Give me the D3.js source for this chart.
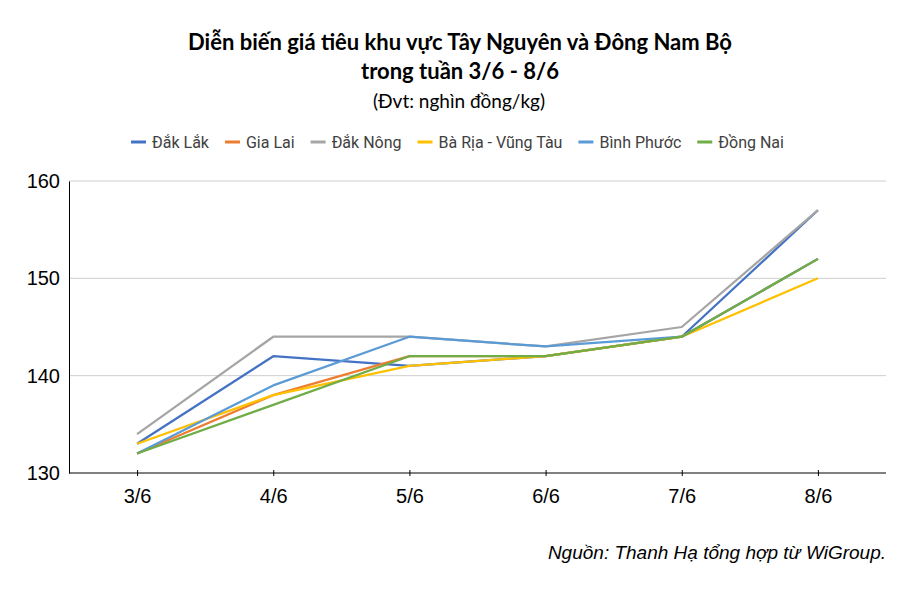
<!DOCTYPE html>
<html>
<head>
<meta charset="utf-8">
<script src="https://cdn.jsdelivr.net/npm/d3@7"></script>
<style>
  body { margin: 0; background: #fff; }
</style>
</head>
<body>
<div id="chart"></div>
<script>
// categories and values
let days = ["3/6", "4/6", "5/6", "6/6", "7/6", "8/6"];
let seriesNames = ["Đắk Lắk", "Gia Lai", "Đắk Nông", "Bà Rịa - Vũng Tàu", "Bình Phước", "Đồng Nai"];
let dakLak = [133, 142, 141, 142, 144, 157];
let giaLai = [132, 138, 142, 142, 144, 152];
let dakNong = [134, 144, 144, 143, 145, 157];
let baRia = [133, 138, 141, 142, 144, 150];
let binhPhuoc = [132, 139, 144, 143, 144, 152];
let dongNai = [132, 137, 142, 142, 144, 152];
let yTicks = [130, 140, 150, 160];

let colors = ["#4472C4", "#ED7D31", "#A5A5A5", "#FFC000", "#5B9BD5", "#70AD47"];
let allSeries = [dakLak, giaLai, dakNong, baRia, binhPhuoc, dongNai];

let W = 916, H = 594;
let margin = {top: 181, right: 30, bottom: 121, left: 69},
    width = W - margin.left - margin.right,
    height = H - margin.top - margin.bottom;

let svg = d3.select("#chart").append("svg")
    .attr("width", W)
    .attr("height", H);

// titles
svg.append("text")
    .attr("x", 460).attr("y", 50)
    .attr("text-anchor", "middle")
    .style("font-family", "Lato, 'Open Sans', sans-serif")
    .style("font-weight", "bold")
    .style("font-size", "22px")
    .style("fill", "#000")
    .text("Diễn biến giá tiêu khu vực Tây Nguyên và Đông Nam Bộ");
svg.append("text")
    .attr("x", 460).attr("y", 79)
    .attr("text-anchor", "middle")
    .style("font-family", "Lato, 'Open Sans', sans-serif")
    .style("font-weight", "bold")
    .style("font-size", "22px")
    .style("fill", "#000")
    .text("trong tuần 3/6 - 8/6");
svg.append("text")
    .attr("x", 459).attr("y", 108)
    .attr("text-anchor", "middle")
    .style("font-family", "Lato, 'Open Sans', sans-serif")
    .style("font-size", "19px")
    .style("fill", "#000")
    .text("(Đvt: nghìn đồng/kg)");

// legend
let legend = svg.append("g");
let lx = 131;
seriesNames.forEach(function (name, i) {
    let g = legend.append("g").attr("transform", "translate(" + lx + ",142)");
    g.append("line")
        .attr("x1", 0).attr("x2", 15)
        .attr("stroke", colors[i]).attr("stroke-width", 3);
    let t = g.append("text")
        .attr("x", 21).attr("y", 6)
        .style("font-family", "Roboto, sans-serif")
        .style("font-size", "16px")
        .style("fill", "#404040")
        .text(name);
    lx += 21 + t.node().getComputedTextLength() + 16;
});

let plot = svg.append("g")
    .attr("transform", "translate(" + margin.left + "," + margin.top + ")");

let x = d3.scalePoint()
    .domain(days)
    .range([0, width])
    .padding(0.5);

let y = d3.scaleLinear()
    .domain([130, 160])
    .range([height, 0]);

// gridlines
plot.selectAll(".grid")
    .data(yTicks.slice(1))
    .enter().append("line")
    .attr("x1", 0).attr("x2", width)
    .attr("y1", function (d) { return y(d); })
    .attr("y2", function (d) { return y(d); })
    .attr("stroke", "#cfcfcf")
    .attr("stroke-width", 1);

// y axis
let yAxis = plot.append("g")
    .call(d3.axisLeft(y).tickValues(yTicks).tickSize(0).tickPadding(9));
yAxis.select(".domain").attr("stroke", "#000");
yAxis.selectAll("text")
    .style("font-family", "'Liberation Sans', Arial, sans-serif")
    .style("font-size", "20px")
    .style("fill", "#000");

// x axis
let xAxis = plot.append("g")
    .attr("transform", "translate(0," + height + ")")
    .call(d3.axisBottom(x).tickSizeInner(3).tickSizeOuter(0).tickPadding(13));
xAxis.select(".domain").attr("stroke", "#000").attr("d", "M0,0H" + width);
xAxis.selectAll(".tick line").attr("y1", -3).attr("stroke", "#000");
xAxis.selectAll("text")
    .style("font-family", "'Liberation Sans', Arial, sans-serif")
    .style("font-size", "20px")
    .style("fill", "#000");

// lines
let line = d3.line()
    .x(function (d, i) { return x(days[i]); })
    .y(function (d) { return y(d); });

allSeries.forEach(function (vals, i) {
    plot.append("path")
        .datum(vals)
        .attr("fill", "none")
        .attr("stroke", colors[i])
        .attr("stroke-width", 2.25)
        .attr("stroke-linejoin", "round")
        .attr("d", line);
});

// source
svg.append("text")
    .attr("x", 886).attr("y", 559)
    .attr("text-anchor", "end")
    .style("font-family", "'Liberation Sans', Arial, sans-serif")
    .style("font-style", "italic")
    .style("font-size", "19px")
    .style("fill", "#000")
    .text("Nguồn: Thanh Hạ tổng hợp từ WiGroup.");
</script>
</body>
</html>
